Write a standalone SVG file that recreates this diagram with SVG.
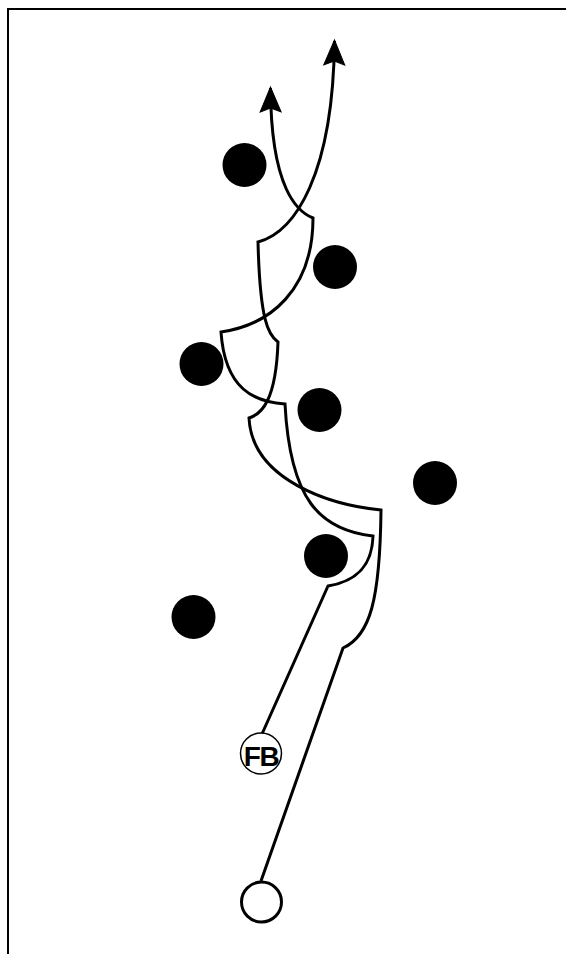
<svg xmlns="http://www.w3.org/2000/svg" width="566" height="954" viewBox="0 0 566 954">
<style>
.route{fill:none;stroke:#000;stroke-width:3;stroke-linejoin:miter}
.def{fill:#000}
.off{fill:#fff;stroke:#000}
.lbl{font-family:"Liberation Sans",Arial,sans-serif;font-weight:bold;font-size:28px;fill:#000}
</style>
<defs>
<marker id="arr" viewBox="-28 -12 30 24" refX="0" refY="0" markerWidth="30" markerHeight="24" markerUnits="userSpaceOnUse" orient="auto" overflow="visible">
<path d="M1,0 L-24,-10.5 L-20,0 L-24,10.5 Z" fill="#000" stroke="#000" stroke-width="1" stroke-linejoin="miter"/>
</marker>
</defs>
<rect width="566" height="954" fill="#fff"/>
<path d="M8,954 L8,9 L566,9" fill="none" stroke="#000" stroke-width="2"/>
<g id="connectors">
<path class="route" marker-end="url(#arr)" d="M261,881 L343,648 C370,636 380,600 381,510 C330,505 252,480 249,418 C262,414 276,400 278,342 C268,335 260,320 258,242 C295,232 333,175 334.5,41"/>
<path class="route" marker-end="url(#arr)" d="M262,734 L328,586 C352,582 372,570 373,536 C320,530 290,500 285,404 C255,402 225,390 221,332 C270,325 313,290 313,218 C298,212 271,190 270.5,88"/>
</g>
<g id="d1"><circle class="def" cx="244.5" cy="165" r="22"/></g>
<g id="d2"><circle class="def" cx="335" cy="267" r="22"/></g>
<g id="d3"><circle class="def" cx="201.5" cy="364" r="22"/></g>
<g id="d4"><circle class="def" cx="319.5" cy="410" r="22"/></g>
<g id="d5"><circle class="def" cx="435" cy="483" r="22"/></g>
<g id="d6"><circle class="def" cx="326" cy="556" r="22"/></g>
<g id="d7"><circle class="def" cx="193.5" cy="617" r="22"/></g>
<g id="fb">
<circle class="off" cx="261" cy="753.5" r="20.5" stroke-width="1.5"/>
<text class="lbl" x="261" y="765.5" text-anchor="middle" letter-spacing="-1.5">FB</text>
</g>
<g id="qb"><circle class="off" cx="261.5" cy="902" r="20" stroke-width="3"/></g>
</svg>
